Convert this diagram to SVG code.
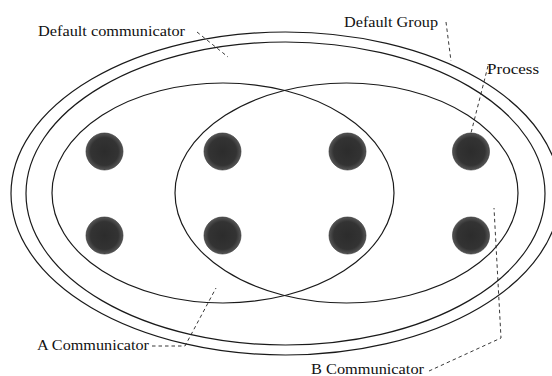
<svg xmlns="http://www.w3.org/2000/svg" width="552" height="376" viewBox="0 0 552 376">
  <style>
    .ring { fill: none; stroke: #1a1a1a; stroke-width: 1.2; }
    .proc { fill: url(#pg); stroke: #2a2a2a; stroke-width: 0.6; }
    .lead { fill: none; stroke: #222; stroke-width: 0.9; stroke-dasharray: 3.5 3; }
    .lbl { font-family: "Liberation Serif", "Times New Roman", serif; font-size: 15px; fill: #111; }
  </style>
  <defs>
    <radialGradient id="pg" cx="50%" cy="50%" r="50%">
      <stop offset="0" stop-color="#2c2c2c"/>
      <stop offset="0.75" stop-color="#333"/>
      <stop offset="1" stop-color="#555"/>
    </radialGradient>
  </defs>
  <rect width="552" height="376" fill="#fff"/>

  <g id="default-group">
    <ellipse class="ring" cx="285.5" cy="193.5" rx="274.5" ry="161.5"/>
  </g>
  <g id="default-communicator">
    <ellipse class="ring" cx="285.5" cy="193.5" rx="259.5" ry="151.5"/>
  </g>
  <g id="a-communicator">
    <ellipse class="ring" cx="223" cy="193" rx="171" ry="110"/>
  </g>
  <g id="b-communicator">
    <ellipse class="ring" cx="346.5" cy="193" rx="171.5" ry="110"/>
  </g>

  <g id="p1"><circle class="proc" cx="104.5" cy="151.5" r="18.5"/></g>
  <g id="p2"><circle class="proc" cx="222.5" cy="151.5" r="18.5"/></g>
  <g id="p3"><circle class="proc" cx="347.5" cy="151.5" r="18.5"/></g>
  <g id="p4"><circle class="proc" cx="471" cy="151.5" r="18.5"/></g>
  <g id="p5"><circle class="proc" cx="104.5" cy="235.5" r="18.5"/></g>
  <g id="p6"><circle class="proc" cx="222.5" cy="235.5" r="18.5"/></g>
  <g id="p7"><circle class="proc" cx="347.5" cy="235.5" r="18.5"/></g>
  <g id="p8"><circle class="proc" cx="471" cy="235.5" r="18.5"/></g>

  <g id="connectors">
    <path class="lead" d="M197,32 L228,57"/>
    <path class="lead" d="M446,22 L451,61"/>
    <path class="lead" d="M488,66 L471,133"/>
    <path class="lead" d="M152,346 L185,346 L216,288"/>
    <path class="lead" d="M429,371 L501,338 L494,208"/>
  </g>

  <g id="labels">
    <text class="lbl" x="38" y="36" textLength="147" lengthAdjust="spacingAndGlyphs">Default communicator</text>
    <text class="lbl" x="344" y="27" textLength="94" lengthAdjust="spacingAndGlyphs">Default Group</text>
    <text class="lbl" x="487" y="74" textLength="52" lengthAdjust="spacingAndGlyphs">Process</text>
    <text class="lbl" x="37" y="350" textLength="112" lengthAdjust="spacingAndGlyphs">A Communicator</text>
    <text class="lbl" x="311" y="374" textLength="113" lengthAdjust="spacingAndGlyphs">B Communicator</text>
  </g>
</svg>
